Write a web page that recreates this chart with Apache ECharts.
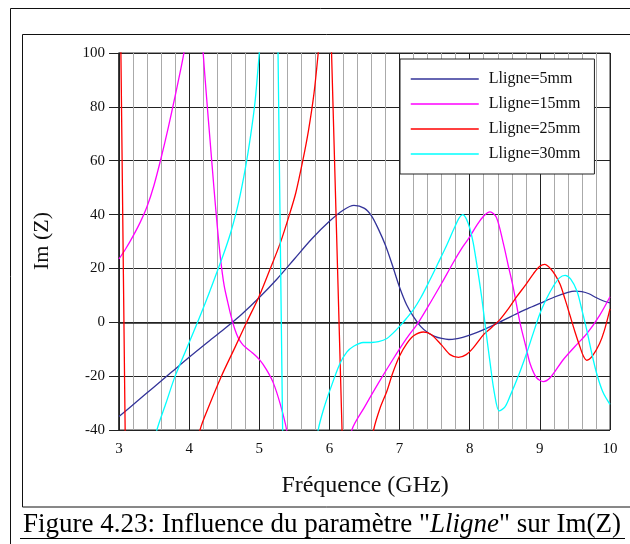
<!DOCTYPE html>
<html>
<head>
    <meta charset="utf-8">
    <title>Im(Z) - Lligne</title>
    <script src="https://cdn.jsdelivr.net/npm/echarts@6/dist/echarts.min.js" type="text/javascript" charset="utf-8"></script>
    <style>
        html, body { margin: 0; padding: 0; background: #fff; }
    </style>
</head>
<body>
<div id="div01" style="width: 630px;height: 544px;"></div>
</body>
<script type="text/javascript">

    // noms des courbes et couleurs
    var seriesNames = ['Lligne=5mm', 'Lligne=15mm', 'Lligne=25mm', 'Lligne=30mm'];
    var seriesColors = ['#333399', '#ff00ff', '#ff0000', '#00ffff'];

    // [fréquence GHz, Im(Z)] ; null = coupure (pôle)
    var lligne5 = [
        [3.0, -35], [3.25, -29.5], [3.5, -24], [3.75, -18.5], [4.0, -13], [4.25, -7.7],
        [4.5, -2.5], [4.75, 3], [5.0, 9.2], [5.25, 16], [5.5, 23.5], [5.75, 31],
        [6.0, 37.5], [6.2, 41.7], [6.35, 43.4], [6.5, 42.3], [6.6, 39.5], [6.7, 34.5],
        [6.8, 28.5], [6.9, 21], [7.0, 13], [7.1, 6.5], [7.2, 2], [7.3, -1.5],
        [7.4, -3.8], [7.5, -5.2], [7.6, -6], [7.7, -6.4], [7.8, -6.2], [7.9, -5.6],
        [8.0, -4.8], [8.2, -2.7], [8.4, -0.3], [8.6, 2.3], [8.8, 4.8], [9.0, 7],
        [9.2, 9.3], [9.4, 11.1], [9.5, 11.6], [9.6, 11.4], [9.7, 10.6], [9.8, 9.2],
        [9.9, 8], [10.0, 7.2]
    ];

    var lligne15 = [
        [3.0, 23.5], [3.1, 27.5], [3.2, 32], [3.3, 37], [3.4, 43], [3.5, 51],
        [3.6, 61], [3.7, 72], [3.8, 84], [3.9, 96.5], [3.95, 104], [4.0, 115],
        [4.07, null],
        [4.15, 120], [4.2, 100], [4.25, 83], [4.3, 67], [4.35, 51], [4.4, 36],
        [4.45, 23], [4.5, 13.5], [4.55, 7.5], [4.6, 2], [4.65, -2.5], [4.7, -5.8],
        [4.75, -7.8], [4.8, -9.2], [4.9, -11.3], [5.0, -13.8], [5.1, -17.5], [5.2, -22.5],
        [5.3, -30.5], [5.39, -40], [5.45, -52],
        [5.8, null],
        [6.25, -53], [6.32, -40], [6.5, -31.5], [6.7, -22.5], [6.9, -14], [7.1, -6],
        [7.27, 0], [7.43, 6.9], [7.6, 14.5], [7.77, 22.4], [7.9, 28], [8.0, 31.7],
        [8.1, 36], [8.2, 39.5], [8.29, 41], [8.38, 39], [8.48, 29.2], [8.55, 21],
        [8.62, 13], [8.72, -0.5], [8.8, -9], [8.86, -15.3], [8.95, -20.5], [9.05, -22],
        [9.15, -20.5], [9.33, -14], [9.5, -9], [9.67, -4.2], [9.85, 2.5], [10.0, 9.5]
    ];

    var lligne25 = [
        [3.025, 105], [3.09, -45],
        [3.5, null],
        [4.1, -50], [4.155, -40], [4.3, -30], [4.46, -20], [4.65, -9.5], [4.82, 0],
        [5.0, 9.8], [5.15, 19.5], [5.3, 29.5], [5.43, 40], [5.52, 48], [5.62, 60],
        [5.7, 71], [5.78, 85], [5.84, 100], [5.88, 112],
        [5.95, null],
        [6.025, 105], [6.185, -45],
        [6.4, null],
        [6.58, -50], [6.63, -40], [6.72, -32], [6.82, -25.5], [6.9, -19], [7.0, -12.5],
        [7.1, -8], [7.2, -5], [7.34, -3.6], [7.45, -4.5], [7.6, -8.5], [7.72, -12],
        [7.84, -13], [7.95, -12], [8.05, -9.5], [8.2, -4.5], [8.3, -2.2], [8.43, 1],
        [8.55, 5], [8.67, 9.5], [8.8, 14], [8.91, 18.1], [9.0, 20.8], [9.07, 21.5],
        [9.15, 20], [9.22, 17.5], [9.29, 14], [9.36, 8.5], [9.43, 2.5], [9.5, -3.5],
        [9.57, -9], [9.62, -12.5], [9.67, -14.1], [9.75, -12.5], [9.85, -8],
        [9.92, -3], [10.0, 5]
    ];

    var lligne30 = [
        [3.5, -46], [3.54, -40], [3.67, -30], [3.8, -20], [3.96, -10], [4.12, 0],
        [4.28, 10.5], [4.43, 21], [4.52, 27.5], [4.6, 34], [4.7, 44], [4.8, 57],
        [4.88, 70], [4.94, 82], [5.0, 100], [5.03, 110],
        [5.15, null],
        [5.265, 105], [5.335, -45],
        [5.6, null],
        [5.8, -50], [5.84, -40], [5.92, -32], [6.01, -25], [6.15, -15.3], [6.25, -11],
        [6.34, -9], [6.48, -7.5], [6.6, -7.5], [6.7, -7.2], [6.82, -6], [6.9, -4.2],
        [7.0, -1.5], [7.1, 1.5], [7.2, 4.8], [7.3, 9], [7.43, 15.6], [7.55, 22],
        [7.67, 28.5], [7.78, 35], [7.85, 38.8], [7.9, 40], [7.95, 38.5], [8.0, 35],
        [8.05, 29.5], [8.11, 20], [8.17, 9.4], [8.23, -3], [8.29, -15], [8.35, -26],
        [8.42, -32.9], [8.5, -31.5], [8.57, -27.7], [8.7, -19.5], [8.81, -11.6],
        [8.9, -4.5], [9.0, 3.2], [9.1, 9], [9.19, 13.3], [9.28, 16.5], [9.36, 17.4],
        [9.44, 16], [9.53, 11.5], [9.6, 4.5], [9.67, -3], [9.74, -11.5], [9.81, -19],
        [9.9, -26], [10.0, -30.5]
    ];

    var allData = [lligne5, lligne15, lligne25, lligne30];
    var serif = 'Liberation Serif';

    var myChart = echarts.init(document.getElementById("div01"));

    var series = allData.map(function (d, i) {
        return {
            name: seriesNames[i],
            type: 'line',
            data: d,
            symbol: 'none',
            smooth: 0.3,
            connectNulls: false,
            clip: true,
            lineStyle: { color: seriesColors[i], width: 1.3 },
            itemStyle: { color: seriesColors[i] },
            emphasis: { disabled: true }
        };
    });

    myChart.setOption({
        animation: false,
        grid: {
            left: 119, right: 20, top: 53, bottom: 114,
            show: true, borderColor: '#333', borderWidth: 1
        },
        legend: {
            orient: 'vertical',
            left: 400, top: 59,
            padding: [12, 14, 12, 10],
            itemWidth: 68, itemHeight: 14, itemGap: 9,
            backgroundColor: '#fff',
            borderColor: '#222', borderWidth: 1,
            itemStyle: { opacity: 0 },
            lineStyle: { width: 1.5 },
            textStyle: { fontFamily: serif, fontSize: 16, color: '#111', padding: [0, 0, 0, 5] },
            data: seriesNames
        },
        xAxis: {
            type: 'value', min: 3, max: 10, interval: 1,
            axisLine: { lineStyle: { color: '#222', width: 1.5 } },
            axisTick: { show: true, length: 7, lineStyle: { color: '#222' } },
            axisLabel: { fontFamily: serif, fontSize: 15, color: '#111', margin: 12 },
            splitLine: { show: true, lineStyle: { color: '#222', width: 1 } },
            minorTick: { show: false, splitNumber: 5 },
            minorSplitLine: { show: true, lineStyle: { color: '#aaa', width: 1 } }
        },
        yAxis: {
            type: 'value', min: -40, max: 100, interval: 20,
            axisLine: { show: true, lineStyle: { color: '#222', width: 1.5 } },
            axisTick: { show: true, length: 10, lineStyle: { color: '#222' } },
            axisLabel: { fontFamily: serif, fontSize: 15, color: '#111', margin: 14 },
            splitLine: { show: true, lineStyle: { color: '#222', width: 1 } }
        },
        graphic: [
            // cadres
            { type: 'polyline', z: 0, shape: { points: [[10.5, 544], [10.5, 8.5], [630, 8.5]] },
              style: { stroke: '#111', lineWidth: 1, fill: null } },
            { type: 'rect', z: 0, shape: { x: 22.5, y: 34.5, width: 640, height: 472.5 },
              style: { stroke: '#111', lineWidth: 1, fill: null } },
            // titres des axes
            { type: 'text', x: 42, y: 241, rotation: Math.PI / 2,
              style: { text: 'Im (Z)', font: '22px "Liberation Serif"', fill: '#111',
                       textAlign: 'center', textVerticalAlign: 'middle' } },
            { type: 'text', x: 365, y: 486,
              style: { text: 'Fréquence (GHz)', font: '24px "Liberation Serif"', fill: '#111',
                       textAlign: 'center', textVerticalAlign: 'middle' } },
            // légende de la figure
            { type: 'text', x: 322, y: 525,
              style: {
                  text: '{n|Figure 4.23: Influence du paramètre "}{i|Lligne}{n|" sur Im(Z)}',
                  textAlign: 'center', textVerticalAlign: 'middle',
                  rich: {
                      n: { fontFamily: serif, fontSize: 27, color: '#000' },
                      i: { fontFamily: serif, fontSize: 27, fontStyle: 'italic', color: '#000' }
                  }
              } },
            { type: 'line', shape: { x1: 20, y1: 538.5, x2: 625, y2: 538.5 },
              style: { stroke: '#000', lineWidth: 1 } }
        ],
        series: series
    });
</script>
</html>
